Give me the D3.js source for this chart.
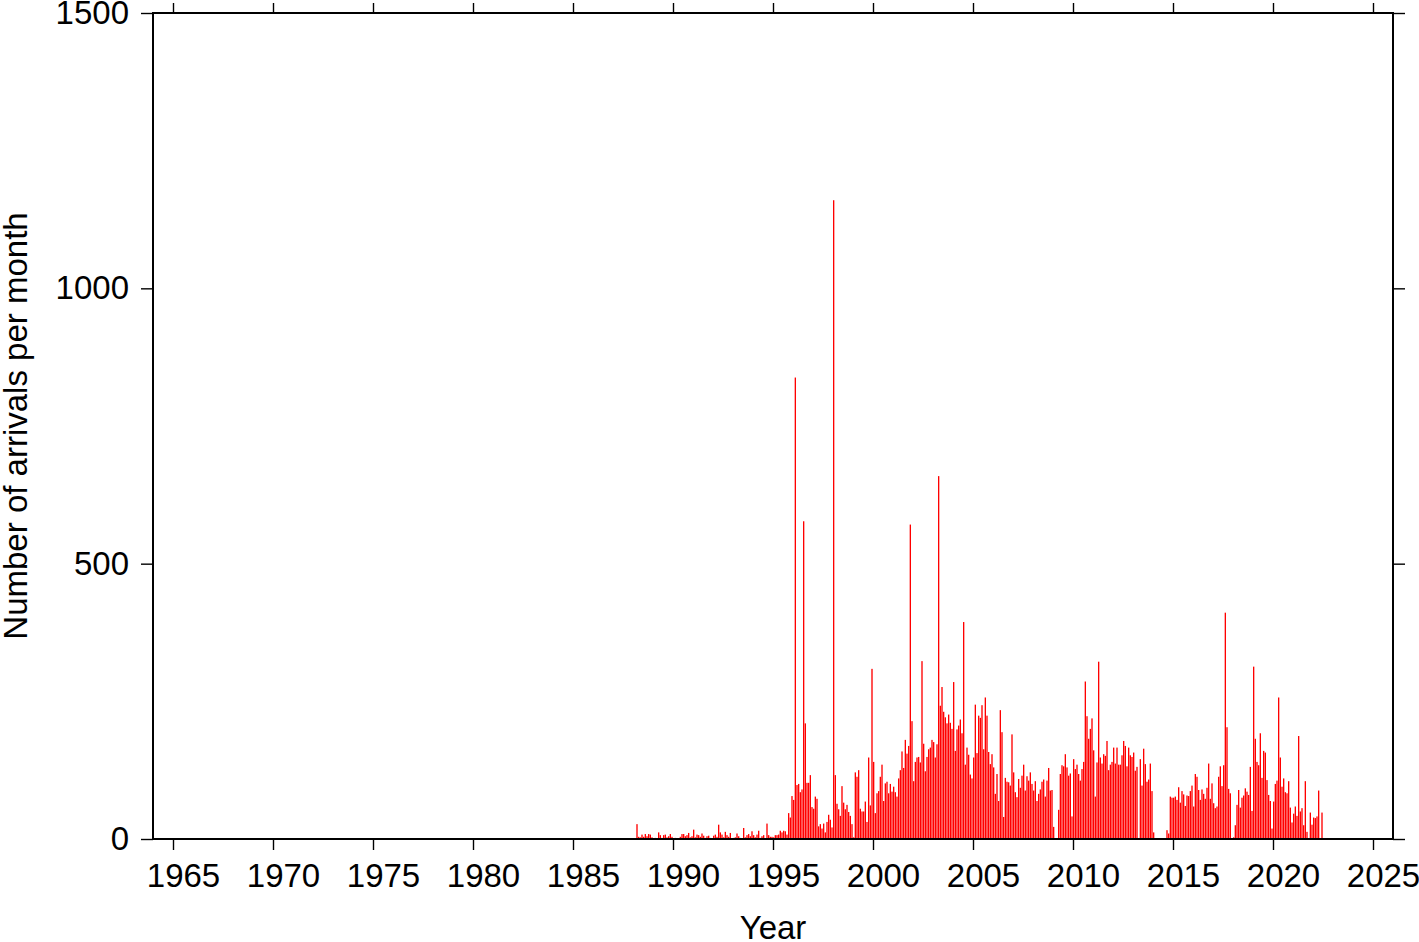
<!DOCTYPE html>
<html>
<head>
<meta charset="utf-8">
<script src="https://cdn.jsdelivr.net/npm/d3@7"></script>
<style>
  html, body { margin: 0; padding: 0; background: #ffffff; }
  svg { display: block; }
  text { font-family: "Liberation Sans", Arial, Helvetica, sans-serif; fill: #000; }
</style>
</head>
<body>
<svg id="chart" width="1419" height="942"></svg>
<script>
// ---- data (monthly arrival counts, starting January 1988) ----
const startYear = 1988;
const arrivals1988_1991 = [
  0, 0, 27, 4, 3, 8, 4, 9, 5, 9, 8, 3,
  0, 2, 0, 12, 7, 2, 7, 8, 3, 5, 9, 4,
  0, 2, 0, 0, 4, 9, 9, 5, 7, 11, 3, 5,
  17, 3, 8, 7, 4, 10, 6, 2, 5, 6, 2, 0
];
const arrivals1992_1995 = [
  6, 8, 4, 26, 12, 8, 3, 13, 7, 4, 11, 0,
  2, 3, 10, 5, 2, 0, 20, 3, 7, 9, 5, 14,
  7, 3, 8, 15, 2, 5, 7, 0, 28, 7, 4, 4,
  3, 7, 7, 8, 15, 12, 15, 14, 8, 47, 39, 78
];
const arrivals1996_1999 = [
  71, 838, 98, 100, 85, 90, 577, 210, 102, 102, 116, 58,
  55, 77, 73, 23, 27, 19, 28, 12, 31, 44, 35, 21,
  1160, 116, 64, 54, 42, 96, 66, 54, 62, 49, 42, 27,
  3, 121, 113, 125, 55, 50, 50, 68, 31, 148, 61, 309
];
const arrivals2000_2003 = [
  140, 47, 83, 87, 113, 135, 69, 101, 104, 83, 100, 86,
  95, 85, 77, 110, 125, 159, 129, 180, 155, 169, 571, 214,
  105, 140, 148, 149, 139, 323, 173, 123, 149, 163, 166, 180,
  176, 148, 172, 659, 242, 276, 231, 221, 210, 226, 211, 200
];
const arrivals2004_2007 = [
  285, 160, 199, 206, 217, 192, 394, 135, 166, 153, 117, 110,
  148, 244, 156, 224, 220, 243, 163, 257, 224, 158, 136, 154,
  130, 82, 118, 69, 234, 194, 40, 111, 104, 103, 97, 190,
  121, 85, 76, 109, 93, 115, 135, 88, 114, 106, 121, 100
];
const arrivals2008_2011 = [
  88, 105, 69, 82, 90, 104, 108, 77, 106, 129, 88, 89,
  22, 0, 0, 53, 118, 134, 132, 154, 130, 115, 119, 41,
  145, 127, 135, 118, 106, 127, 140, 286, 223, 182, 200, 219,
  161, 77, 139, 322, 148, 137, 154, 151, 178, 125, 135, 140
];
const arrivals2012_2015 = [
  166, 137, 166, 135, 135, 152, 178, 169, 132, 166, 152, 149,
  157, 124, 131, 0, 145, 97, 164, 136, 104, 108, 137, 87,
  12, 0, 0, 0, 0, 0, 0, 0, 16, 10, 77, 75,
  75, 77, 71, 94, 66, 87, 81, 60, 79, 78, 87, 97
];
const arrivals2016_2019 = [
  59, 118, 113, 89, 71, 90, 82, 73, 93, 137, 73, 101,
  65, 56, 59, 113, 132, 96, 134, 411, 203, 91, 83, 0,
  3, 25, 62, 89, 57, 75, 79, 92, 86, 80, 131, 51,
  313, 182, 140, 134, 192, 111, 160, 157, 107, 80, 69, 19
];
const arrivals2020_2022 = [
  68, 100, 106, 257, 148, 95, 110, 85, 83, 105, 57, 30,
  46, 59, 42, 187, 50, 56, 25, 105, 13, 0, 48, 26,
  39, 38, 41, 88, 0, 48
];
const monthlyArrivals = [].concat(
  arrivals1988_1991, arrivals1992_1995, arrivals1996_1999, arrivals2000_2003,
  arrivals2004_2007, arrivals2008_2011, arrivals2012_2015, arrivals2016_2019,
  arrivals2020_2022
);
const xTickYears = [1965, 1970, 1975, 1980, 1985, 1990, 1995, 2000, 2005, 2010, 2015, 2020, 2025];
const yTickValues = [0, 500, 1000, 1500];
const xDomain = [1964, 2026];
const yDomain = [0, 1500];
const xTitle = "Year";
const yTitle = "Number of arrivals per month";

(function draw() {
  const svg = d3.select("#chart");
  const pl = 153, pr = 1393, pt = 13, pb = 839;
  const x = d3.scaleLinear().domain(xDomain).range([pl, pr]);
  const y = d3.scaleLinear().domain(yDomain).range([pb, pt]);
  const monthW = x(xDomain[0] + 1 / 12) - x(xDomain[0]);
  const barW = monthW * 0.8;
  const fontSize = 33;

  const rows = monthlyArrivals.map((v, i) => ({ t: startYear + i / 12, v }));

  svg.append("g")
    .selectAll("rect")
    .data(rows.filter(d => d.v > 0))
    .join("rect")
    .attr("x", d => x(d.t))
    .attr("width", barW)
    .attr("y", d => y(d.v))
    .attr("height", d => y(0) - y(d.v))
    .attr("fill", "#ff0000");

  function styleAxis(g) {
    g.select(".domain").remove();
    g.selectAll(".tick line").attr("stroke", "#000").attr("stroke-width", 1.4);
    g.selectAll(".tick text")
      .style("font-family", '"Liberation Sans", Arial, Helvetica, sans-serif')
      .style("font-size", fontSize + "px")
      .attr("fill", "#000");
  }

  svg.append("g")
    .attr("transform", `translate(0,${pb})`)
    .call(d3.axisBottom(x).tickValues(xTickYears).tickFormat(d3.format("d")).tickSize(11).tickPadding(14))
    .call(styleAxis)
    .call(g => g.selectAll(".tick text").attr("x", 10));

  svg.append("g")
    .attr("transform", `translate(0,${pt})`)
    .call(d3.axisTop(x).tickValues(xTickYears).tickFormat("").tickSize(10))
    .call(styleAxis);

  svg.append("g")
    .attr("transform", `translate(${pl},0)`)
    .call(d3.axisLeft(y).tickValues(yTickValues).tickFormat(d3.format("d")).tickSize(12).tickPadding(12))
    .call(styleAxis);

  svg.append("g")
    .attr("transform", `translate(${pr},0)`)
    .call(d3.axisRight(y).tickValues(yTickValues).tickFormat("").tickSize(12))
    .call(styleAxis);

  svg.append("rect")
    .attr("x", pl).attr("y", pt)
    .attr("width", pr - pl).attr("height", pb - pt)
    .attr("fill", "none").attr("stroke", "#000").attr("stroke-width", 2);

  svg.append("text")
    .attr("x", (pl + pr) / 2).attr("y", 939)
    .attr("text-anchor", "middle")
    .style("font-size", fontSize + "px")
    .text(xTitle);

  svg.append("text")
    .attr("transform", `translate(27,${(pt + pb) / 2}) rotate(-90)`)
    .attr("text-anchor", "middle")
    .style("font-size", fontSize + "px")
    .text(yTitle);
})();
</script>
</body>
</html>
